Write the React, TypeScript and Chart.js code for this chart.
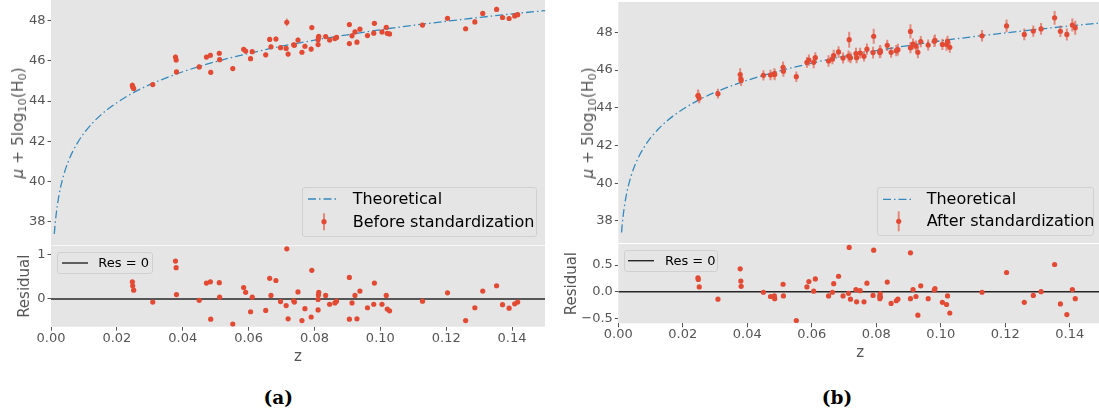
import React, { useEffect, useRef } from "react";
import { Chart, registerables } from "chart.js";

Chart.register(...registerables);

// ---------- data ----------
const Z = [0.0247, 0.0248, 0.0251, 0.0309, 0.0378, 0.038, 0.0381, 0.045, 0.0472, 0.0484, 0.0485, 0.0511, 0.0512, 0.0552, 0.0585, 0.0591, 0.0606, 0.0611, 0.0652, 0.0664, 0.0668, 0.0683, 0.0697, 0.0714, 0.0716, 0.072, 0.0737, 0.0739, 0.075, 0.0762, 0.0771, 0.079, 0.0792, 0.0811, 0.0811, 0.0812, 0.0813, 0.0834, 0.0846, 0.0862, 0.0867, 0.0906, 0.0906, 0.0914, 0.0923, 0.0929, 0.0938, 0.0961, 0.098, 0.0982, 0.1005, 0.1018, 0.1021, 0.1028, 0.1128, 0.1204, 0.1259, 0.1287, 0.1311, 0.1353, 0.1371, 0.1391, 0.1408, 0.1417];

const MU_BEFORE = [44.78, 44.7, 44.63, 44.82, 46.19, 46.05, 45.45, 45.7, 46.19, 46.28, 45.43, 46.38, 46.06, 45.62, 46.58, 46.49, 46.11, 46.46, 46.3, 47.07, 46.7, 47.09, 46.66, 46.62, 47.92, 46.34, 46.8, 46.78, 47.04, 46.43, 46.73, 46.59, 47.66, 46.81, 47.05, 47.16, 47.22, 47.21, 47.04, 47.11, 47.17, 46.86, 47.81, 47.25, 47.44, 46.93, 47.58, 47.26, 47.38, 47.87, 47.44, 47.67, 47.37, 47.34, 47.78, 48.12, 47.6, 47.94, 48.36, 48.56, 48.16, 48.11, 48.24, 48.3];

const ERR_BEFORE = [0.14, 0.13, 0.12, 0.11, 0.13, 0.12, 0.11, 0.12, 0.11, 0.12, 0.13, 0.11, 0.12, 0.12, 0.11, 0.12, 0.12, 0.11, 0.12, 0.13, 0.11, 0.12, 0.11, 0.12, 0.19, 0.12, 0.11, 0.12, 0.12, 0.11, 0.12, 0.13, 0.12, 0.11, 0.12, 0.11, 0.12, 0.12, 0.11, 0.12, 0.11, 0.12, 0.13, 0.11, 0.12, 0.12, 0.11, 0.12, 0.11, 0.12, 0.12, 0.11, 0.12, 0.11, 0.12, 0.12, 0.11, 0.12, 0.12, 0.13, 0.11, 0.12, 0.12, 0.11];

const RES_BEFORE = [0.39, 0.3, 0.2, -0.07, 0.86, 0.71, 0.1, -0.03, 0.36, 0.39, -0.46, 0.37, 0.04, -0.57, 0.26, 0.15, -0.29, 0.04, -0.26, 0.47, 0.08, 0.42, -0.06, -0.15, 1.14, -0.45, -0.04, -0.07, 0.16, -0.49, -0.22, -0.41, 0.65, -0.25, -0.01, 0.09, 0.15, 0.08, -0.12, -0.09, -0.05, -0.46, 0.49, -0.09, 0.08, -0.45, 0.18, -0.2, -0.12, 0.36, -0.12, 0.08, -0.23, -0.27, -0.05, 0.14, -0.49, -0.2, 0.18, 0.3, -0.13, -0.21, -0.11, -0.07];

const MU_AFTER = [44.65, 44.63, 44.52, 44.75, 45.76, 45.54, 45.45, 45.72, 45.74, 45.81, 45.76, 46.15, 45.94, 45.65, 46.41, 46.53, 46.41, 46.66, 46.48, 46.59, 46.77, 46.96, 46.64, 46.74, 47.61, 46.65, 46.88, 46.66, 46.9, 46.73, 47.11, 46.93, 47.79, 46.93, 46.98, 47.03, 46.97, 47.31, 46.94, 47.03, 47.08, 47.19, 48.05, 47.38, 47.27, 46.94, 47.51, 47.33, 47.53, 47.57, 47.36, 47.35, 47.52, 47.21, 47.82, 48.34, 47.89, 48.07, 48.18, 48.77, 48.06, 47.89, 48.39, 48.24];

const ERR_AFTER = [0.32, 0.3, 0.28, 0.26, 0.34, 0.3, 0.29, 0.27, 0.28, 0.29, 0.3, 0.31, 0.3, 0.28, 0.29, 0.3, 0.31, 0.29, 0.3, 0.28, 0.31, 0.3, 0.29, 0.3, 0.42, 0.29, 0.31, 0.3, 0.29, 0.28, 0.3, 0.31, 0.4, 0.3, 0.29, 0.3, 0.31, 0.3, 0.29, 0.3, 0.31, 0.3, 0.38, 0.29, 0.3, 0.31, 0.3, 0.29, 0.3, 0.31, 0.3, 0.32, 0.3, 0.29, 0.3, 0.34, 0.31, 0.3, 0.31, 0.36, 0.3, 0.32, 0.35, 0.37];

const RES_AFTER = [0.26, 0.23, 0.09, -0.14, 0.43, 0.2, 0.1, -0.01, -0.09, -0.08, -0.13, 0.14, -0.08, -0.54, 0.09, 0.19, 0.01, 0.24, -0.08, -0.01, 0.15, 0.29, -0.08, -0.03, 0.83, -0.14, 0.04, -0.19, 0.02, -0.19, 0.16, -0.07, 0.78, -0.13, -0.08, -0.04, -0.1, 0.18, -0.22, -0.17, -0.14, -0.13, 0.73, 0.04, -0.09, -0.44, 0.11, -0.13, 0.03, 0.06, -0.2, -0.24, -0.08, -0.4, -0.01, 0.36, -0.2, -0.07, 0.0, 0.51, -0.23, -0.43, 0.04, -0.13];

const THEORY_Z = [0.001, 0.00125, 0.0015, 0.002, 0.0025, 0.003, 0.004, 0.005, 0.0065, 0.008, 0.01, 0.0125, 0.015, 0.0175, 0.02, 0.025, 0.03, 0.035, 0.04, 0.05, 0.06, 0.07, 0.08, 0.09, 0.1, 0.11, 0.12, 0.13, 0.14, 0.15];
const THEORY_MU = [37.39, 37.87, 38.27, 38.89, 39.38, 39.78, 40.4, 40.89, 41.46, 41.91, 42.4, 42.89, 43.29, 43.63, 43.92, 44.42, 44.82, 45.16, 45.46, 45.96, 46.37, 46.73, 47.03, 47.3, 47.55, 47.77, 47.97, 48.16, 48.34, 48.5];

const ZERO_LINE_Z = [0, 0.15];
const ZERO_LINE_RES = [0, 0];

const X_TICKS = [0, 0.02, 0.04, 0.06, 0.08, 0.1, 0.12, 0.14];
const MAIN_Y_TICKS = [38, 40, 42, 44, 46, 48];
const RES_Y_TICKS_A = [0, 1];
const RES_Y_TICKS_B = [-0.5, 0, 0.5];

// ---------- styles ----------
const FONT = "'DejaVu Sans'";
const RED = "#E24A33";
const RED_BAR = "rgba(226,74,51,0.6)";
const BLUE = "#348ABD";
const BG = "#E5E5E5";
const TXT = "#555555";
const DASH_DOT = [8, 3, 1.5, 3];

Chart.defaults.font.family = FONT;

const bgPlugin = {
  id: "panelBg",
  beforeDraw(chart: any) {
    const { ctx, chartArea: a } = chart;
    ctx.save();
    ctx.fillStyle = BG;
    ctx.fillRect(a.left, a.top, a.right - a.left, a.bottom - a.top);
    ctx.restore();
  },
};

function pointsData(ys: number[]) {
  return Z.map((z, i) => ({ x: z, y: ys[i] }));
}

function errorBarData(mu: number[], err: number[]) {
  const out: any[] = [];
  Z.forEach((z, i) => {
    out.push({ x: z, y: mu[i] - err[i] }, { x: z, y: mu[i] + err[i] }, { x: z, y: null });
  });
  return out;
}

function mainDatasets(mu: number[], err: number[], barWidth: number) {
  return [
    {
      type: "scatter",
      data: pointsData(mu),
      pointRadius: 2.6,
      pointBackgroundColor: RED,
      pointBorderWidth: 0,
      showLine: false,
    },
    {
      type: "line",
      data: errorBarData(mu, err),
      borderColor: RED_BAR,
      borderWidth: barWidth,
      pointRadius: 0,
      spanGaps: false,
      tension: 0,
      fill: false,
    },
    {
      type: "line",
      data: THEORY_Z.map((z, i) => ({ x: z, y: THEORY_MU[i] })),
      borderColor: BLUE,
      borderWidth: 1.3,
      borderDash: DASH_DOT,
      pointRadius: 0,
      cubicInterpolationMode: "monotone",
      fill: false,
    },
  ];
}

function resDatasets(res: number[]) {
  return [
    {
      type: "scatter",
      data: pointsData(res),
      pointRadius: 2.6,
      pointBackgroundColor: RED,
      pointBorderWidth: 0,
      showLine: false,
    },
    {
      type: "line",
      data: ZERO_LINE_Z.map((z, i) => ({ x: z, y: ZERO_LINE_RES[i] })),
      borderColor: "#262626",
      borderWidth: 1.4,
      pointRadius: 0,
      fill: false,
    },
  ];
}

type PanelProps = {
  left: number;
  top: number;
  width: number;
  height: number;
  padTop: number;
  areaH: number;
  yAxisW: number;
  yMin: number;
  yMax: number;
  yTicks: number[];
  yFmt: (v: number) => string;
  yTitle: string | null;
  yTitlePad: number;
  showX: boolean;
  xTitlePadBottom: number;
  datasets: any[];
};

function ChartPanel(p: PanelProps) {
  const ref = useRef<HTMLCanvasElement | null>(null);
  useEffect(() => {
    const tickFont = { family: FONT, size: 13 };
    const chart = new Chart(ref.current as HTMLCanvasElement, {
      type: "scatter",
      data: { datasets: p.datasets as any },
      options: {
        responsive: false,
        maintainAspectRatio: false,
        animation: false,
        devicePixelRatio: 1,
        events: [],
        layout: { autoPadding: false, padding: { top: p.padTop, left: 0, right: 0, bottom: 0 } },
        plugins: { legend: { display: false }, tooltip: { enabled: false } },
        scales: {
          x: {
            type: "linear",
            min: 0,
            max: 0.15,
            display: p.showX,
            afterBuildTicks: (s: any) => {
              s.ticks = X_TICKS.map((v) => ({ value: v }));
            },
            afterFit: (s: any) => {
              s.height = p.height - p.padTop - p.areaH;
              s.paddingLeft = 0;
              s.paddingRight = 0;
            },
            ticks: {
              color: TXT,
              font: tickFont,
              padding: 0,
              maxRotation: 0,
              autoSkip: false,
              callback: (v: any) => Number(v).toFixed(2),
            },
            grid: { display: true, drawOnChartArea: false, drawTicks: true, tickLength: 4, color: TXT, lineWidth: 1 },
            border: { display: false },
            title: {
              display: true,
              text: "z",
              color: TXT,
              font: { family: FONT, size: 15 },
              padding: { top: 0, bottom: p.xTitlePadBottom },
            },
          },
          y: {
            type: "linear",
            min: p.yMin,
            max: p.yMax,
            afterBuildTicks: (s: any) => {
              s.ticks = p.yTicks.map((v) => ({ value: v }));
            },
            afterFit: (s: any) => {
              s.width = p.yAxisW;
              s.paddingTop = 0;
              s.paddingBottom = 0;
            },
            ticks: { color: TXT, font: tickFont, padding: 2, callback: (v: any) => p.yFmt(Number(v)) },
            grid: { display: true, drawOnChartArea: false, drawTicks: true, tickLength: 3.5, color: TXT, lineWidth: 1 },
            border: { display: false },
            title: {
              display: p.yTitle !== null,
              text: p.yTitle || "",
              color: TXT,
              font: { family: FONT, size: 15 },
              padding: { top: p.yTitlePad, bottom: 0 },
            },
          },
        },
      } as any,
      plugins: [bgPlugin],
    });
    return () => chart.destroy();
  }, []);
  return (
    <canvas
      ref={ref}
      width={p.width}
      height={p.height}
      style={{ position: "absolute", left: p.left, top: p.top, width: p.width, height: p.height }}
    />
  );
}

// ---------- rotated math y-title ----------
function MuTitle(props: { cx: number; cy: number }) {
  const sub = { fontSize: "72%", verticalAlign: "-0.28em", lineHeight: 0 };
  return (
    <div
      style={{
        position: "absolute",
        left: props.cx,
        top: props.cy,
        transform: "translate(-50%, -50%) rotate(-90deg)",
        whiteSpace: "nowrap",
        fontFamily: FONT,
        fontSize: 15.5,
        lineHeight: "20px",
        color: TXT,
      }}
    >
      <span style={{ fontStyle: "italic" }}>{"\u03bc"}</span>
      {" + 5log"}
      <span style={sub}>10</span>
      {"(H"}
      <span style={sub}>0</span>
      {")"}
    </div>
  );
}

// ---------- HTML legends ----------
function LegendBox(props: { left: number; top: number; w: number; h: number; children: any }) {
  return (
    <div
      style={{
        position: "absolute",
        left: props.left,
        top: props.top,
        width: props.w,
        height: props.h,
        boxSizing: "border-box",
        border: "1px solid #D0D0D0",
        borderRadius: 3,
        background: "rgba(229,229,229,0.8)",
      }}
    >
      <div style={{ position: "absolute", left: -1, top: -1, width: props.w, height: props.h }}>{props.children}</div>
    </div>
  );
}

function LegendText(props: { x: number; cy: number; size: number; text: string }) {
  return (
    <div
      style={{
        position: "absolute",
        left: props.x,
        top: props.cy - 12,
        lineHeight: "24px",
        height: 24,
        fontSize: props.size,
        fontFamily: FONT,
        color: "#000",
        whiteSpace: "nowrap",
      }}
    >
      {props.text}
    </div>
  );
}

function MainLegend(props: {
  left: number;
  top: number;
  w: number;
  h: number;
  lineX1: number;
  lineX2: number;
  row1: number;
  row2: number;
  barX: number;
  barHalf: number;
  textX: number;
  label: string;
}) {
  return (
    <LegendBox left={props.left} top={props.top} w={props.w} h={props.h}>
      <svg
        width={props.w}
        height={props.h}
        style={{ position: "absolute", left: 0, top: 0, overflow: "visible" }}
      >
        <line
          x1={props.lineX1}
          x2={props.lineX2}
          y1={props.row1}
          y2={props.row1}
          stroke={BLUE}
          strokeWidth={1.3}
          strokeDasharray={DASH_DOT.join(" ")}
        />
        <line
          x1={props.barX}
          x2={props.barX}
          y1={props.row2 - props.barHalf}
          y2={props.row2 + props.barHalf}
          stroke={RED_BAR}
          strokeWidth={2}
        />
        <circle cx={props.barX} cy={props.row2} r={2.6} fill={RED} />
      </svg>
      <LegendText x={props.textX} cy={props.row1} size={16} text="Theoretical" />
      <LegendText x={props.textX} cy={props.row2} size={16} text={props.label} />
    </LegendBox>
  );
}

function ResLegend(props: { left: number; top: number; w: number; h: number; x1: number; x2: number; cy: number; textX: number }) {
  return (
    <LegendBox left={props.left} top={props.top} w={props.w} h={props.h}>
      <svg width={props.w} height={props.h} style={{ position: "absolute", left: 0, top: 0, overflow: "visible" }}>
        <line x1={props.x1} x2={props.x2} y1={props.cy} y2={props.cy} stroke="#262626" strokeWidth={1.4} />
      </svg>
      <LegendText x={props.textX} cy={props.cy} size={13} text="Res = 0" />
    </LegendBox>
  );
}

function Caption(props: { cx: number; cy: number; text: string }) {
  return (
    <div
      style={{
        position: "absolute",
        left: props.cx - 50,
        top: props.cy - 13,
        width: 100,
        height: 26,
        lineHeight: "26px",
        textAlign: "center",
        fontFamily: "'DejaVu Serif'",
        fontWeight: "bold",
        fontSize: 18.5,
        color: "#000",
      }}
    >
      {props.text}
    </div>
  );
}

const fmtInt = (v: number) => String(v);
const fmtResB = (v: number) => (v < 0 ? "\u2212" : "") + Math.abs(v).toFixed(1);

export default function App() {
  return (
    <div
      style={{
        position: "absolute",
        left: 0,
        top: 0,
        width: 1099,
        height: 414,
        overflow: "hidden",
        background: "#fff",
      }}
    >
      <ChartPanel
        left={0}
        top={0}
        width={545}
        height={245}
        padTop={0}
        areaH={245}
        yAxisW={51}
        yMin={36.84}
        yMax={49.03}
        yTicks={MAIN_Y_TICKS}
        yFmt={fmtInt}
        yTitle={null}
        yTitlePad={0}
        showX={false}
        xTitlePadBottom={0}
        datasets={mainDatasets(MU_BEFORE, ERR_BEFORE, 1.6)}
      />
      <ChartPanel
        left={0}
        top={245}
        width={545}
        height={122}
        padTop={0.7}
        areaH={81}
        yAxisW={51}
        yMin={-0.63}
        yMax={1.21}
        yTicks={RES_Y_TICKS_A}
        yFmt={fmtInt}
        yTitle="Residual"
        yTitlePad={16.5}
        showX={true}
        xTitlePadBottom={1.3}
        datasets={resDatasets(RES_BEFORE)}
      />
      <ChartPanel
        left={560}
        top={0}
        width={542}
        height={243}
        padTop={2}
        areaH={241}
        yAxisW={58.3}
        yMin={36.83}
        yMax={49.61}
        yTicks={MAIN_Y_TICKS}
        yFmt={fmtInt}
        yTitle={null}
        yTitlePad={0}
        showX={false}
        xTitlePadBottom={0}
        datasets={mainDatasets(MU_AFTER, ERR_AFTER, 2)}
      />
      <ChartPanel
        left={560}
        top={243}
        width={542}
        height={122}
        padTop={1}
        areaH={79.3}
        yAxisW={58.3}
        yMin={-0.593}
        yMax={0.895}
        yTicks={RES_Y_TICKS_B}
        yFmt={fmtResB}
        yTitle="Residual"
        yTitlePad={3}
        showX={true}
        xTitlePadBottom={3}
        datasets={resDatasets(RES_AFTER)}
      />

      <MuTitle cx={18.3} cy={122.5} />
      <MuTitle cx={588.3} cy={122.5} />

      <MainLegend
        left={302}
        top={187}
        w={235}
        h={50}
        lineX1={6}
        lineX2={37}
        row1={12}
        row2={34.7}
        barX={22}
        barHalf={8.5}
        textX={50.7}
        label="Before standardization"
      />
      <MainLegend
        left={877.3}
        top={186.7}
        w={217}
        h={49.3}
        lineX1={6}
        lineX2={36}
        row1={12.3}
        row2={34.3}
        barX={21.7}
        barHalf={10}
        textX={49.4}
        label="After standardization"
      />
      <ResLegend left={56.7} top={251.7} w={96.6} h={22.6} x1={5} x2={31} cy={11} textX={41.6} />
      <ResLegend left={624.3} top={250} w={94} h={22.3} x1={4} x2={30} cy={10.7} textX={40.7} />

      <Caption cx={278.3} cy={398.3} text="(a)" />
      <Caption cx={837} cy={398.3} text="(b)" />
    </div>
  );
}
